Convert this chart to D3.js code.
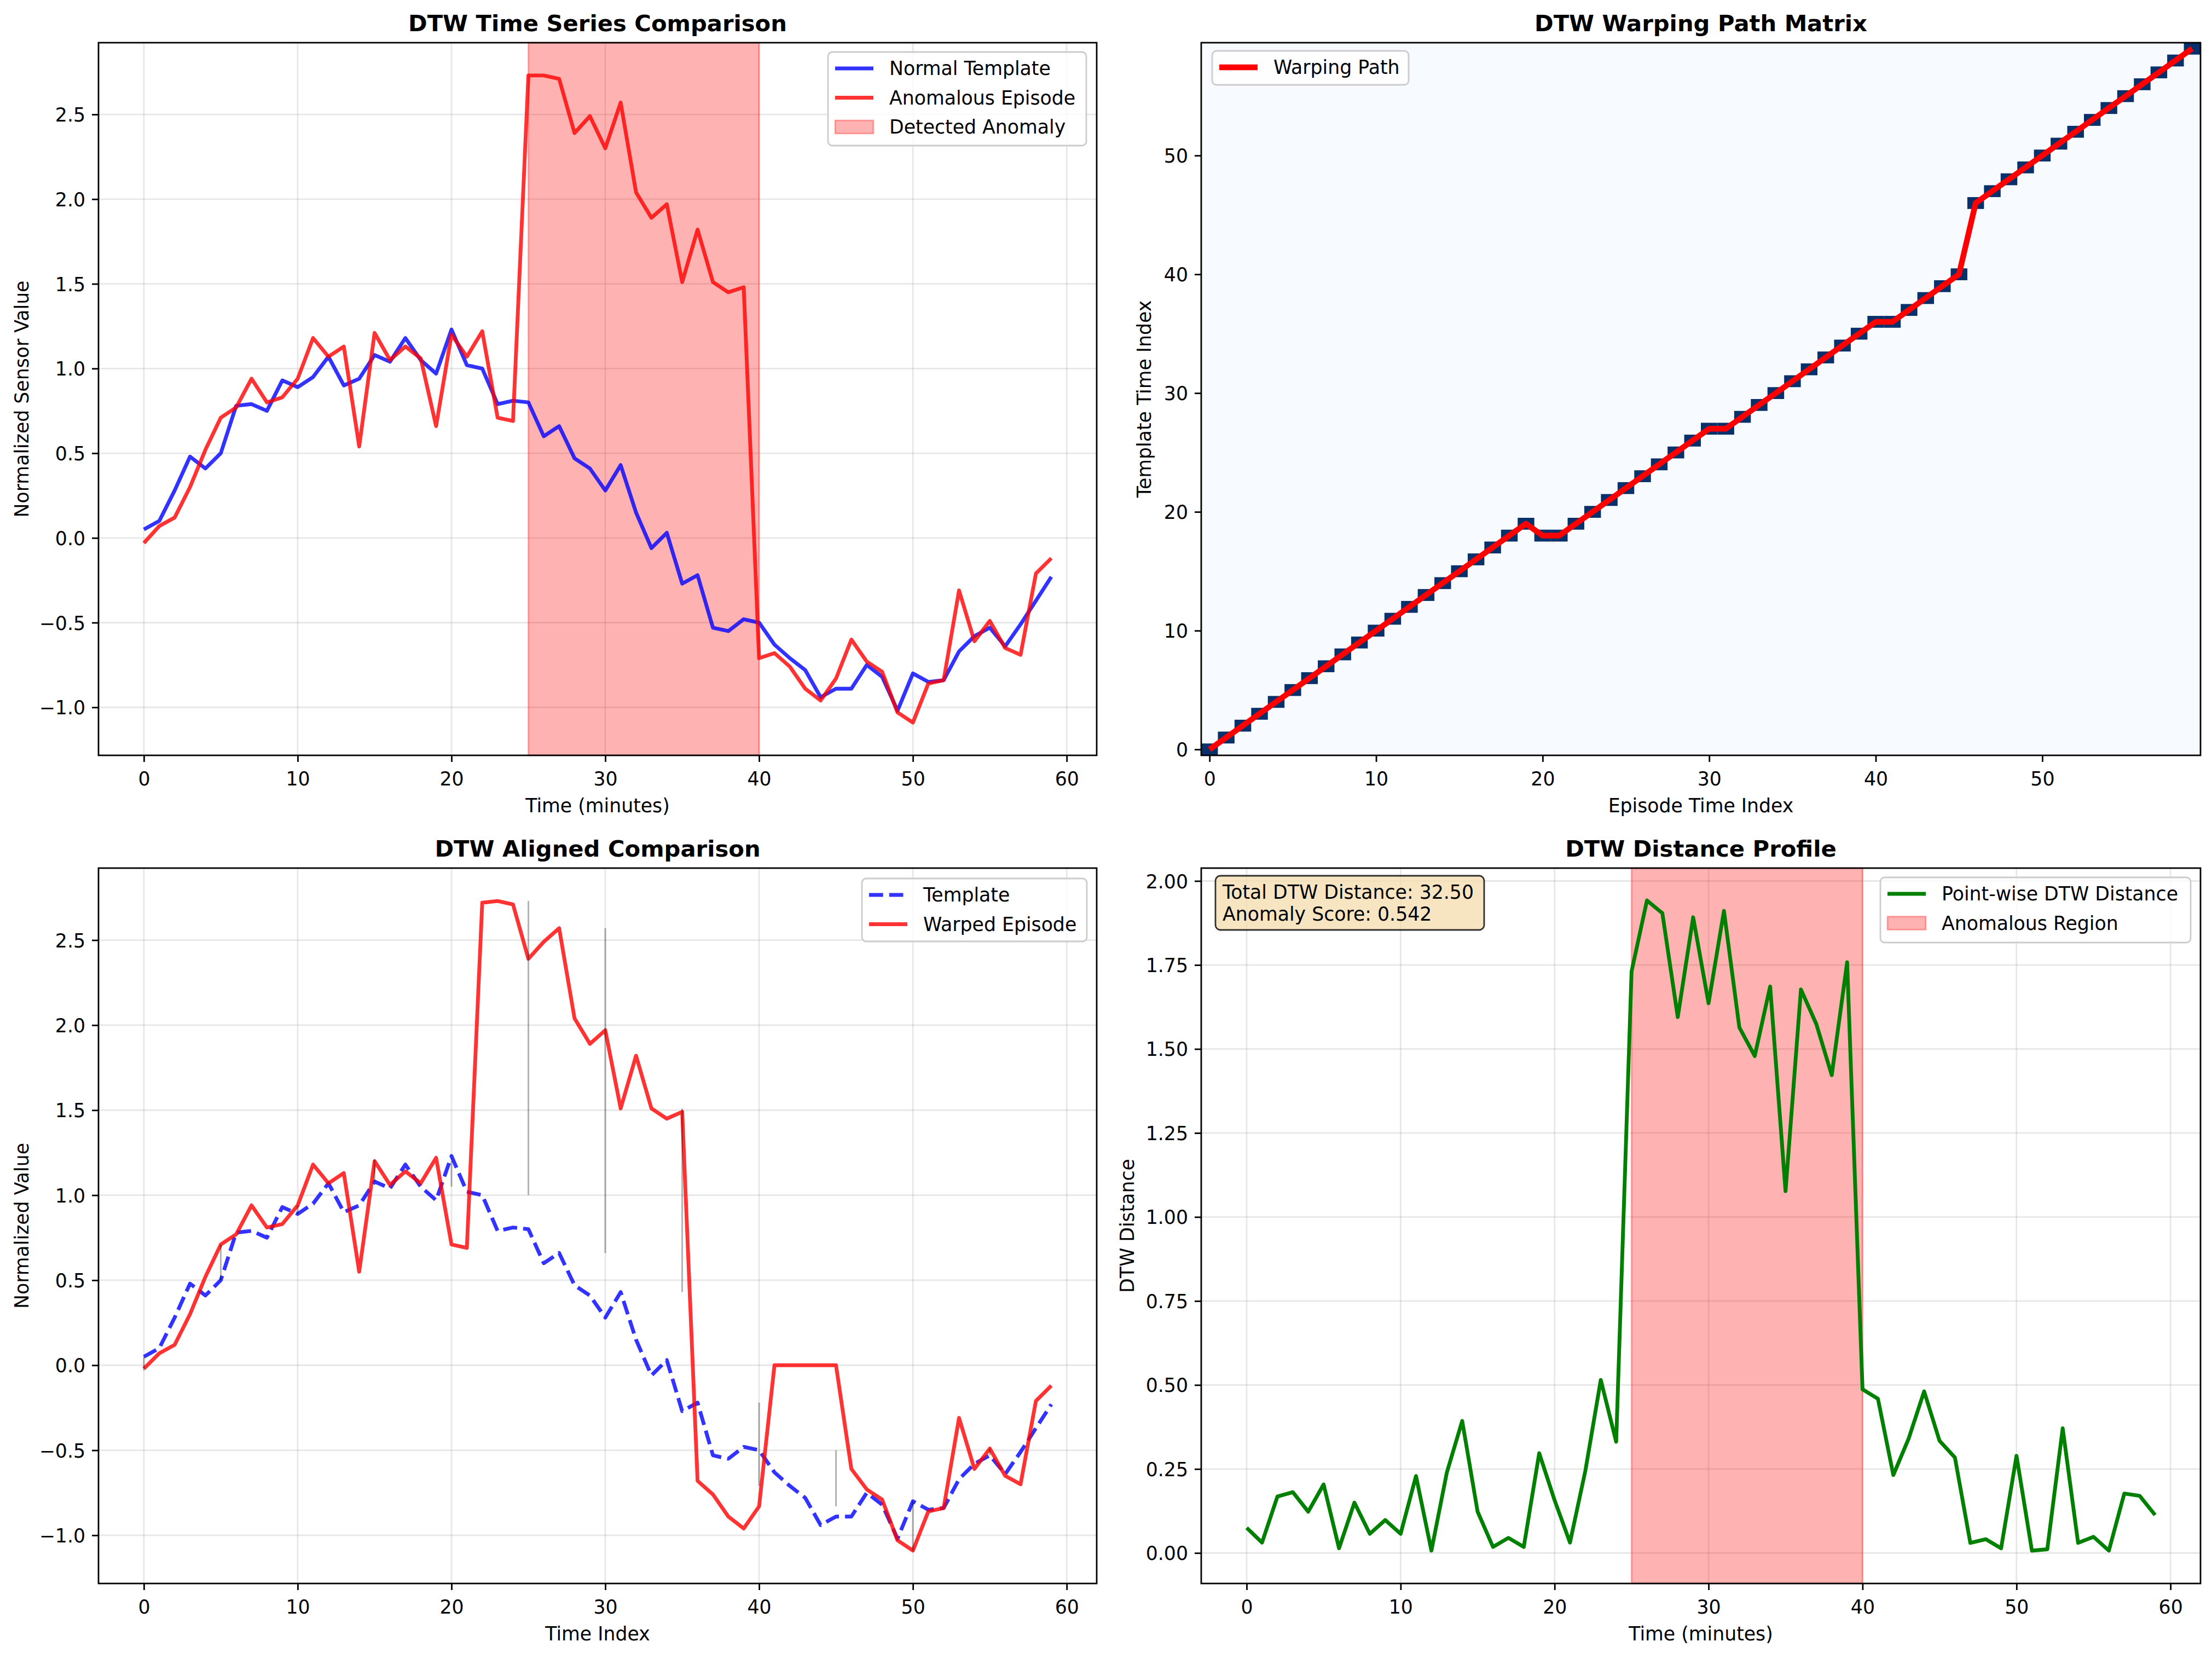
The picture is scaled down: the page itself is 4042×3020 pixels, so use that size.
<!DOCTYPE html>
<html>
<head>
<meta charset="utf-8">
<script src="https://cdn.jsdelivr.net/npm/d3@7"></script>
<style>
  body { margin: 0; background: #fff; }
  svg text { font-family: "DejaVu Sans", sans-serif; fill: #000; }
</style>
</head>
<body>
<svg id="chart" width="4042" height="3020"></svg>
<script>
// values, one per minute / index 0..59

var templateValues = [0.05, 0.10, 0.28, 0.48, 0.41, 0.50, 0.78, 0.79, 0.75, 0.93,
  0.89, 0.95, 1.07, 0.90, 0.94, 1.08, 1.04, 1.18, 1.05, 0.97,
  1.23, 1.02, 1.00, 0.79, 0.81, 0.80, 0.60, 0.66, 0.47, 0.41,
  0.28, 0.43, 0.15, -0.06, 0.03, -0.27, -0.22, -0.53, -0.55, -0.48,
  -0.50, -0.63, -0.71, -0.78, -0.94, -0.89, -0.89, -0.75, -0.82, -1.02,
  -0.80, -0.85, -0.84, -0.67, -0.58, -0.53, -0.64, -0.51, -0.37, -0.23];

var episodeValues = [-0.03, 0.07, 0.12, 0.30, 0.52, 0.71, 0.77, 0.94, 0.80, 0.83,
  0.94, 1.18, 1.07, 1.13, 0.54, 1.21, 1.05, 1.13, 1.06, 0.66,
  1.20, 1.07, 1.22, 0.71, 0.69, 2.73, 2.73, 2.71, 2.39, 2.49,
  2.30, 2.57, 2.04, 1.89, 1.97, 1.51, 1.82, 1.51, 1.45, 1.48,
  -0.71, -0.68, -0.76, -0.89, -0.96, -0.83, -0.60, -0.73, -0.79, -1.03,
  -1.09, -0.86, -0.84, -0.31, -0.61, -0.49, -0.65, -0.69, -0.21, -0.12];

var warpedValues = [-0.02, 0.07, 0.12, 0.30, 0.52, 0.71, 0.77, 0.94, 0.81, 0.83,
  0.94, 1.18, 1.07, 1.13, 0.55, 1.20, 1.06, 1.14, 1.07, 1.22,
  0.71, 0.69, 2.72, 2.73, 2.71, 2.39, 2.49, 2.57, 2.04, 1.89,
  1.97, 1.51, 1.82, 1.51, 1.45, 1.49, -0.68, -0.76, -0.89, -0.96,
  -0.83, 0.00, 0.00, 0.00, 0.00, 0.00, -0.61, -0.73, -0.79, -1.03,
  -1.09, -0.86, -0.84, -0.31, -0.61, -0.49, -0.65, -0.70, -0.21, -0.12];

var distanceValues = [0.075, 0.031, 0.168, 0.181, 0.123, 0.204, 0.014, 0.150, 0.057, 0.098,
  0.057, 0.229, 0.007, 0.239, 0.393, 0.123, 0.018, 0.045, 0.018, 0.297,
  0.157, 0.031, 0.245, 0.515, 0.331, 1.731, 1.942, 1.904, 1.595, 1.892,
  1.636, 1.911, 1.564, 1.479, 1.686, 1.077, 1.677, 1.574, 1.422, 1.758,
  0.487, 0.459, 0.232, 0.341, 0.481, 0.334, 0.284, 0.030, 0.041, 0.014,
  0.289, 0.007, 0.011, 0.371, 0.030, 0.048, 0.007, 0.177, 0.170, 0.113];

// warping path: episode index -> template index
var pathEpisode = [0, 1, 2, 3, 4, 5, 6, 7, 8, 9, 10, 11, 12, 13, 14, 15, 16, 17, 18, 19,
  20, 21, 22, 23, 24, 25, 26, 27, 28, 29, 30, 31, 32, 33, 34, 35, 36, 37, 38, 39,
  40, 41, 42, 43, 44, 45, 46, 47, 48, 49, 50, 51, 52, 53, 54, 55, 56, 57, 58, 59];
var pathTemplate = [0, 1, 2, 3, 4, 5, 6, 7, 8, 9, 10, 11, 12, 13, 14, 15, 16, 17, 18, 19,
  18, 18, 19, 20, 21, 22, 23, 24, 25, 26, 27, 27, 28, 29, 30, 31, 32, 33, 34, 35,
  36, 36, 37, 38, 39, 40, 46, 47, 48, 49, 50, 51, 52, 53, 54, 55, 56, 57, 58, 59];

// alignment connectors drawn every 5th path step (from template value to episode value)
var connectorIndex = [0, 5, 10, 15, 20, 25, 30, 35, 40, 45, 50, 55];
var connectorFrom = [0.05, 0.50, 0.89, 1.08, 1.05, 1.00, 0.66, 0.43, -0.22, -0.50, -0.80, -0.53];
var connectorTo = [-0.03, 0.71, 0.94, 1.21, 1.20, 2.73, 2.57, 1.51, -0.71, -0.83, -1.09, -0.49];

var anomalySpan = [25, 40];
var totalDistance = 32.50;
var anomalyScore = 0.542;

var timeTicks = [0, 10, 20, 30, 40, 50, 60];
var valueTicks = [-1.0, -0.5, 0.0, 0.5, 1.0, 1.5, 2.0, 2.5];
var indexTicks = [0, 10, 20, 30, 40, 50];
var distanceTicks = [0, 0.25, 0.5, 0.75, 1.0, 1.25, 1.5, 1.75, 2.0];

var idx = d3.range(60);

var FS = 34.7, TFS = 41.7, LW = 6.9;
var BLUE = "rgba(0,0,255,0.8)", RED = "rgba(255,0,0,0.8)", SPAN = "rgba(255,0,0,0.3)";

var svg = d3.select("#chart");
svg.append("rect").attr("width", 4042).attr("height", 3020).attr("fill", "#fff");

function panel(o) {
  var g = svg.append("g");
  var x = d3.scaleLinear().domain(o.xd).range([o.left, o.right]);
  var y = d3.scaleLinear().domain(o.yd).range([o.bottom, o.top]);
  var layers = {};
  layers.back = g.append("g");
  if (o.grid) {
    var grid = g.append("g").attr("stroke", "#b0b0b0").attr("stroke-opacity", 0.3).attr("stroke-width", 2.8);
    grid.selectAll(".gx").data(o.xt).enter().append("line")
      .attr("x1", function(d) { return x(d); }).attr("x2", function(d) { return x(d); })
      .attr("y1", o.top).attr("y2", o.bottom);
    grid.selectAll(".gy").data(o.yt).enter().append("line")
      .attr("y1", function(d) { return y(d); }).attr("y2", function(d) { return y(d); })
      .attr("x1", o.left).attr("x2", o.right);
  }
  layers.plot = g.append("g");

  var xa = g.append("g").attr("transform", "translate(0," + o.bottom + ")")
    .call(d3.axisBottom(x).tickValues(o.xt).tickSize(12).tickPadding(14).tickFormat(o.xf));
  var ya = g.append("g").attr("transform", "translate(" + o.left + ",0)")
    .call(d3.axisLeft(y).tickValues(o.yt).tickSize(12).tickPadding(12).tickFormat(o.yf));
  [xa, ya].forEach(function(a) {
    a.select(".domain").remove();
    a.selectAll("line").attr("stroke", "#000").attr("stroke-width", 2.8);
    a.selectAll("text").attr("font-size", FS).attr("font-family", "DejaVu Sans").attr("fill", "#000");
  });
  xa.selectAll("text").attr("dy", 0).attr("y", 55);
  ya.selectAll("text").attr("dy", "0.36em");

  g.append("rect").attr("x", o.left).attr("y", o.top)
    .attr("width", o.right - o.left).attr("height", o.bottom - o.top)
    .attr("fill", "none").attr("stroke", "#000").attr("stroke-width", 2.8);

  g.append("text").attr("x", (o.left + o.right) / 2).attr("y", o.top - 21)
    .attr("text-anchor", "middle").attr("font-size", TFS).attr("font-weight", "bold").text(o.title);
  g.append("text").attr("x", (o.left + o.right) / 2).attr("y", o.bottom + 104)
    .attr("text-anchor", "middle").attr("font-size", FS).text(o.xlabel);
  g.append("text").attr("transform", "translate(" + (o.left - o.ylOff) + "," + ((o.top + o.bottom) / 2) + ") rotate(-90)")
    .attr("text-anchor", "middle").attr("font-size", FS).text(o.ylabel);

  layers.front = g.append("g");
  return { g: g, x: x, y: y, layers: layers };
}

function linePath(p, xs, ys) {
  return d3.line().x(function(d) { return p.x(xs[d]); }).y(function(d) { return p.y(ys[d]); })(d3.range(xs.length));
}

function addLine(p, xs, ys, color, width, dash) {
  p.layers.plot.append("path")
    .attr("d", linePath(p, xs, ys))
    .attr("fill", "none").attr("stroke", color).attr("stroke-width", width)
    .attr("stroke-linejoin", "round").attr("stroke-dasharray", dash || null);
}

function addSpan(p, span) {
  p.layers.plot.append("rect")
    .attr("x", p.x(span[0])).attr("width", p.x(span[1]) - p.x(span[0]))
    .attr("y", p.y.range()[1]).attr("height", p.y.range()[0] - p.y.range()[1])
    .attr("fill", SPAN).attr("stroke", SPAN).attr("stroke-width", 2.8);
}

function legend(p, box, rows) {
  var lg = p.layers.front.append("g");
  lg.append("rect").attr("x", box[0]).attr("y", box[1])
    .attr("width", box[2] - box[0]).attr("height", box[3] - box[1]).attr("rx", 8)
    .attr("fill", "#fff").attr("fill-opacity", 0.8).attr("stroke", "#cccccc").attr("stroke-width", 2.8);
  rows.forEach(function(r, k) {
    var cy = box[1] + 30 + k * 53.5, hx = box[0] + 13;
    if (r.type === "patch") {
      lg.append("rect").attr("x", hx).attr("y", cy - 12).attr("width", 70).attr("height", 24)
        .attr("fill", SPAN).attr("stroke", SPAN).attr("stroke-width", 2.8);
    } else {
      lg.append("line").attr("x1", hx).attr("x2", hx + 70).attr("y1", cy).attr("y2", cy)
        .attr("stroke", r.color).attr("stroke-width", r.width || LW)
        .attr("stroke-dasharray", r.dash || null);
    }
    lg.append("text").attr("x", box[0] + 112).attr("y", cy).attr("dy", "0.36em")
      .attr("font-size", FS).text(r.label);
  });
}

var f1 = d3.format(".1f"), f2 = d3.format(".2f"), fd = d3.format("d");

// --- top left: time series comparison
var p1 = panel({ left: 180, right: 2004, top: 78, bottom: 1380,
  xd: [-2.95, 61.95], yd: [-1.2835, 2.9235], xt: timeTicks, yt: valueTicks, xf: fd, yf: f1, grid: true,
  title: "DTW Time Series Comparison", xlabel: "Time (minutes)", ylabel: "Normalized Sensor Value", ylOff: 128 });
addSpan(p1, anomalySpan);
addLine(p1, idx, templateValues, BLUE, LW);
addLine(p1, idx, episodeValues, RED, LW);
legend(p1, [1513, 95, 1985, 266], [
  { label: "Normal Template", color: BLUE },
  { label: "Anomalous Episode", color: RED },
  { label: "Detected Anomaly", type: "patch" }]);

// --- top right: warping path matrix
var p2 = panel({ left: 2195, right: 4021, top: 78, bottom: 1380,
  xd: [-0.5, 59.5], yd: [-0.5, 59.5], xt: indexTicks, yt: indexTicks, xf: fd, yf: fd, grid: false,
  title: "DTW Warping Path Matrix", xlabel: "Episode Time Index", ylabel: "Template Time Index", ylOff: 92 });
p2.layers.back.append("rect").attr("x", 2195).attr("y", 78).attr("width", 4021 - 2195).attr("height", 1380 - 78)
  .attr("fill", "#f7fbff");
p2.layers.back.selectAll(".cell").data(d3.range(pathEpisode.length)).enter().append("rect")
  .attr("x", function(k) { return p2.x(pathEpisode[k] - 0.5); })
  .attr("y", function(k) { return p2.y(pathTemplate[k] + 0.5); })
  .attr("width", function(k) { return p2.x(pathEpisode[k] + 0.5) - p2.x(pathEpisode[k] - 0.5); })
  .attr("height", function(k) { return p2.y(pathTemplate[k] - 0.5) - p2.y(pathTemplate[k] + 0.5); })
  .attr("fill", "#08306b");
addLine(p2, pathEpisode, pathTemplate, "#ff0000", 10.4);
legend(p2, [2215, 93, 2574, 155], [{ label: "Warping Path", color: "#ff0000", width: 10.4 }]);

// --- bottom left: aligned comparison
var p3 = panel({ left: 180, right: 2004, top: 1586, bottom: 2893,
  xd: [-2.95, 61.95], yd: [-1.2835, 2.9235], xt: timeTicks, yt: valueTicks, xf: fd, yf: f1, grid: true,
  title: "DTW Aligned Comparison", xlabel: "Time Index", ylabel: "Normalized Value", ylOff: 128 });
addLine(p3, idx, templateValues, BLUE, LW, "25.7,11.1");
addLine(p3, idx, warpedValues, RED, LW);
p3.layers.plot.selectAll(".conn").data(d3.range(connectorIndex.length)).enter().append("line")
  .attr("x1", function(k) { return p3.x(connectorIndex[k]); })
  .attr("x2", function(k) { return p3.x(connectorIndex[k]); })
  .attr("y1", function(k) { return p3.y(connectorFrom[k]); })
  .attr("y2", function(k) { return p3.y(connectorTo[k]); })
  .attr("stroke", "#000").attr("stroke-opacity", 0.3).attr("stroke-width", 3);
legend(p3, [1575, 1605, 1986, 1720], [
  { label: "Template", color: BLUE, dash: "25.7,11.1" },
  { label: "Warped Episode", color: RED }]);

// --- bottom right: distance profile
var p4 = panel({ left: 2195, right: 4021, top: 1586, bottom: 2893,
  xd: [-2.95, 61.95], yd: [-0.0908, 2.0383], xt: timeTicks, yt: distanceTicks, xf: fd, yf: f2, grid: true,
  title: "DTW Distance Profile", xlabel: "Time (minutes)", ylabel: "DTW Distance", ylOff: 123 });
addSpan(p4, anomalySpan);
addLine(p4, idx, distanceValues, "#008000", LW);
legend(p4, [3436, 1603, 4003, 1722], [
  { label: "Point-wise DTW Distance", color: "#008000" },
  { label: "Anomalous Region", type: "patch" }]);

var tb = p4.layers.front.append("g");
tb.append("rect").attr("x", 2221).attr("y", 1600).attr("width", 2712 - 2221).attr("height", 99).attr("rx", 9)
  .attr("fill", "rgba(245,222,179,0.8)").attr("stroke", "rgba(0,0,0,0.8)").attr("stroke-width", 2.8);
tb.append("text").attr("x", 2234).attr("y", 1642).attr("font-size", FS)
  .text("Total DTW Distance: " + totalDistance.toFixed(2));
tb.append("text").attr("x", 2234).attr("y", 1682).attr("font-size", FS)
  .text("Anomaly Score: " + anomalyScore.toFixed(3));
</script>
</body>
</html>
